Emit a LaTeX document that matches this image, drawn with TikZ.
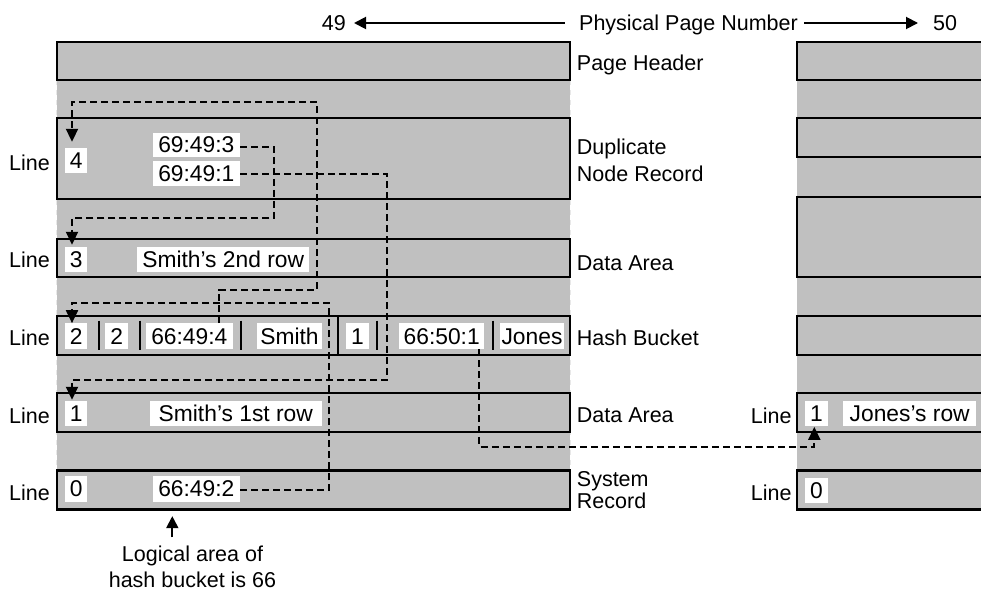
\documentclass[tikz,border=0pt]{standalone}
\usepackage{fontspec}
\setmainfont{Liberation Sans}
\usetikzlibrary{arrows.meta}
\definecolor{pagegray}{RGB}{192,192,192}
\definecolor{edgegray}{RGB}{232,232,232}
\begin{document}
\begin{tikzpicture}[x=1pt,y=-1pt,
  lab/.style={font=\fontsize{21.5}{24}\selectfont, inner sep=0pt, text height=15.4pt, text depth=0pt},
  wbox/.style={fill=white, inner sep=0pt, font=\fontsize{22.8}{25}\selectfont, text height=16.3pt, text depth=0pt},
  rec/.style={draw=black, fill=pagegray, line width=2.2pt},
  bar/.style={line width=2.2pt},
  ptr/.style={dash pattern=on 7pt off 4pt, line width=2pt, -{Triangle[length=13pt,width=12pt]}},
  solidarr/.style={line width=1.9pt, -{Triangle[length=12pt,width=12pt]}},
]
\useasboundingbox (0,0) rectangle (981,591);
\begin{scope}
\clip (0,0) rectangle (981,591);
% ---------- page backgrounds ----------
\fill[pagegray] (56.7,80) rectangle (570,509.5);
\draw[edgegray, dash pattern=on 5pt off 5pt, line width=0.8pt] (56.7,80) -- (56.7,509.5) (570,80) -- (570,509.5);
\fill[pagegray] (796.7,80) rectangle (990,509.5);
% ---------- left page records ----------
\draw[rec] (56.7,41.7) rectangle (570,80);
\draw[rec] (56.7,118.3) rectangle (570,199.3);
\draw[rec] (56.7,239) rectangle (570,277.3);
\draw[rec] (56.7,315.7) rectangle (570,355);
\draw[rec] (56.7,393.3) rectangle (570,432.3);
\draw[rec] (56.7,470.5) rectangle (570,509.5);
% ---------- right page records ----------
\draw[rec] (796.7,41.7) rectangle (995,80);
\draw[rec] (796.7,118.3) rectangle (995,156.7);
\draw[rec] (796.7,196.7) rectangle (995,276.7);
\draw[rec] (796.7,315.7) rectangle (995,355);
\draw[rec] (796.7,393.3) rectangle (995,432.3);
\draw[rec] (796.7,470.5) rectangle (995,509.5);
\end{scope}
% hash bucket divider and separators
\draw[bar] (338.3,315.7) -- (338.3,355);
\foreach \x in {99.3,140,240.7,376.7,492.7} \draw[bar] (\x,320.7) -- (\x,350);
% ---------- white field boxes ----------
\node[wbox, minimum width=22.3pt, minimum height=25pt] (n4) at (76.2,160.5) {4};
\node[wbox, minimum width=87.3pt, minimum height=24pt] (a693) at (196.3,144.7) {69:49:3};
\node[wbox, minimum width=87.3pt, minimum height=25.3pt] (a691) at (196.3,173.3) {69:49:1};
\node[wbox, minimum width=22.3pt, minimum height=25pt] (n3) at (76.2,259.2) {3};
\node[wbox, minimum width=171.7pt, minimum height=25pt] (s2) at (223.2,259.2) {Smith’s 2nd row};
\node[wbox, minimum width=22.3pt, minimum height=25.7pt] (n2a) at (76.2,336.2) {2};
\node[wbox, minimum width=23pt, minimum height=25.7pt] (n2b) at (116.8,336.2) {2};
\node[wbox, minimum width=86.7pt, minimum height=25.7pt] (k4) at (189.3,336.2) {66:49:4};
\node[wbox, minimum width=64.4pt, minimum height=25.7pt] (sm) at (289.5,336.2) {Smith};
\node[wbox, minimum width=23.6pt, minimum height=25.7pt] (n1b) at (357.5,336.2) {1};
\node[wbox, minimum width=84.7pt, minimum height=25.7pt] (k5) at (441.7,336.2) {66:50:1};
\node[wbox, minimum width=64pt, minimum height=25.7pt] (jo) at (532,336.2) {Jones};
\node[wbox, minimum width=22.3pt, minimum height=25.3pt] (n1) at (76.2,413.3) {1};
\node[wbox, minimum width=171.7pt, minimum height=25.3pt] (s1) at (235.8,413.3) {Smith’s 1st row};
\node[wbox, minimum width=22.3pt, minimum height=25.7pt] (n0) at (76.2,488.8) {0};
\node[wbox, minimum width=87.3pt, minimum height=25.7pt] (k2) at (196.3,488.8) {66:49:2};
\node[wbox, minimum width=23pt, minimum height=25.3pt] (r1) at (816.5,413.3) {1};
\node[wbox, minimum width=132.7pt, minimum height=25.3pt] (jr) at (909.7,413.3) {Jones’s row};
\node[wbox, minimum width=23pt, minimum height=24.7pt] (r0) at (816.5,490.3) {0};
% ---------- Line labels ----------
\node[lab, anchor=east] (l4) at (50,162.5) {Line};
\node[lab, anchor=east] (l3) at (50,259.8) {Line};
\node[lab, anchor=east] (l2) at (50,338.2) {Line};
\node[lab, anchor=east] (l1) at (50,415.8) {Line};
\node[lab, anchor=east] (l0) at (50,492.5) {Line};
\node[lab, anchor=east] (rl1) at (791.7,415.8) {Line};
\node[lab, anchor=east] (rl0) at (791.7,492.5) {Line};
% ---------- record type labels ----------
\node[lab, anchor=west] (tph) at (576.7,62.5) {Page Header};
\node[lab, anchor=west] (tdn1) at (576.7,146.7) {Duplicate};
\node[lab, anchor=west] (tdn2) at (576.7,173.3) {Node Record};
\node[lab, anchor=west] (tda1) at (576.7,262.5) {Data Area};
\node[lab, anchor=west] (thb) at (576.7,337.5) {Hash Bucket};
\node[lab, anchor=west] (tda2) at (576.7,415) {Data Area};
\node[lab, anchor=west] (tsr1) at (576.7,479) {System};
\node[lab, anchor=west] (tsr2) at (576.7,500.8) {Record};
% ---------- top scale ----------
\node[lab, anchor=east] (p49) at (346,23) {49};
\node[lab] (phys) at (688.5,23) {Physical Page Number};
\node[lab, anchor=west] (p50) at (933,23) {50};
\draw[solidarr, shorten <=14pt, shorten >=8pt] (phys.west) -- (p49.east);
\draw[solidarr, shorten <=6pt, shorten >=15pt] (phys.east) -- (p50.west);
% ---------- bottom note ----------
\coordinate (logx) at (172.3,0);
\node[lab] (lg1) at (192.5,553.5) {Logical area of};
\node[lab] (lg2) at (192.5,579.5) {hash bucket is 66};
\draw[solidarr, shorten <=8.2pt, shorten >=14.3pt] (lg1.north -| logx) -- (k2.south -| logx);
% ---------- pointer chains ----------
\draw[ptr] ([xshift=30pt]k4.north) |- (316.7,290) |- (72,101.7) -- ([xshift=-4.2pt,yshift=6pt]n4.north);
\draw[ptr] ([yshift=-2pt]a693.east) -| (274,218.3) -| ([xshift=-4.2pt,yshift=1.7pt]n3.north);
\draw[ptr] ([yshift=-1pt]a691.east) -| (387.3,380) -| ([xshift=-4.2pt,yshift=0.7pt]n1.north);
\draw[ptr] ([yshift=-1.2pt]k2.east) -| (329.3,303.3) -| ([xshift=-4.2pt]n2a.north);
\draw[ptr] ([xshift=37.6pt]k5.south) |- (814.3,446.7) -- ([xshift=-2.2pt,yshift=-0.7pt]r1.south);
\end{tikzpicture}
\end{document}
